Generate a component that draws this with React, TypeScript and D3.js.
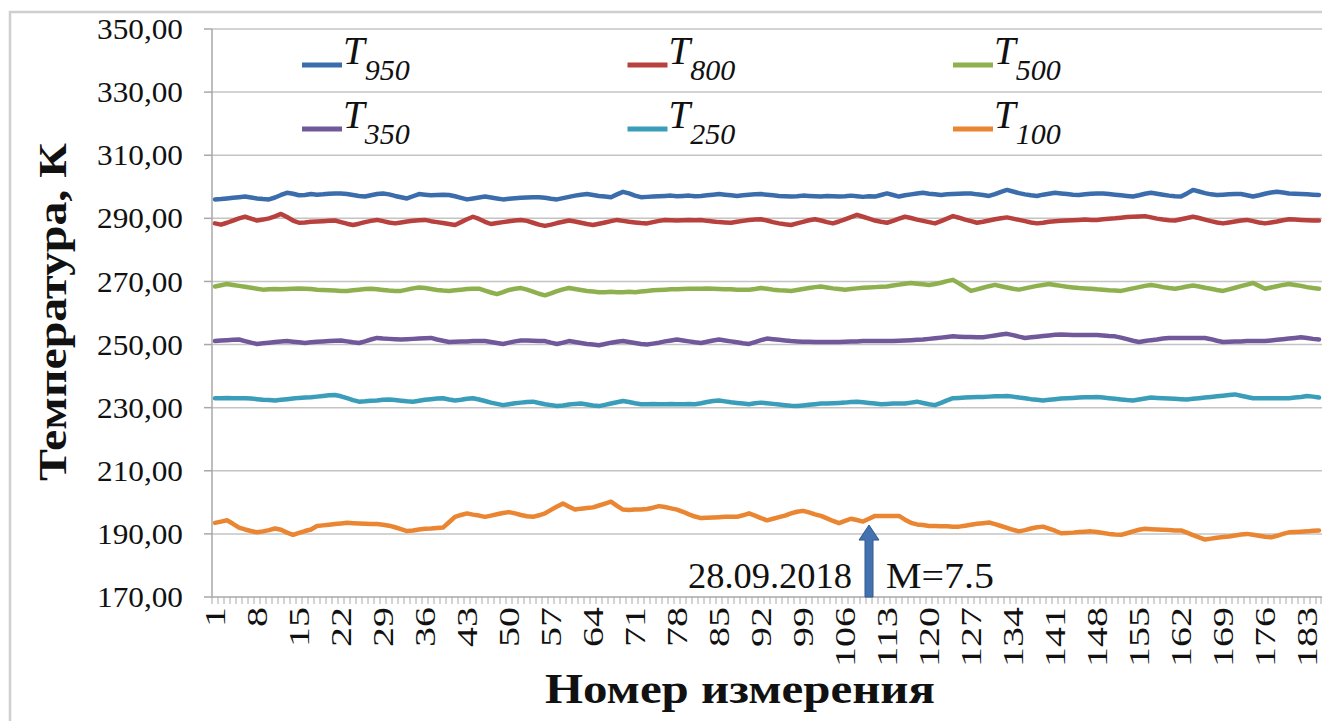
import React, { useEffect } from 'react';
import * as d3 from 'd3';

// measurement numbers 1..185
const categories = d3.range(1, 186);
const xTickLabels = [1, 8, 15, 22, 29, 36, 43, 50, 57, 64, 71, 78, 85, 92, 99, 106, 113, 120, 127, 134, 141, 148, 155, 162, 169, 176, 183];
const yTicks = [170, 190, 210, 230, 250, 270, 290, 310, 330, 350];

const t950 = [
  296.0, 296.1, 296.3, 296.5, 296.7, 296.9, 296.6, 296.3, 296.1, 296.0,
  296.6, 297.4, 298.1, 297.8, 297.3, 297.4, 297.7, 297.5, 297.6, 297.8,
  297.9, 297.9, 297.7, 297.4, 297.1, 296.9, 297.3, 297.7, 297.9, 297.6,
  297.1, 296.7, 296.3, 297.0, 297.7, 297.5, 297.3, 297.4, 297.5, 297.4,
  297.0, 296.5, 296.0, 296.3, 296.6, 296.9, 296.6, 296.3, 296.0, 296.2,
  296.4, 296.5, 296.6, 296.7, 296.7, 296.5, 296.2, 296.0, 296.4, 296.8,
  297.2, 297.5, 297.7, 297.4, 297.1, 296.9, 296.7, 297.6, 298.4, 297.9,
  297.2, 296.7, 296.8, 296.9, 297.0, 297.1, 297.2, 297.0, 297.1, 297.2,
  297.0, 297.1, 297.3, 297.5, 297.7, 297.5, 297.3, 297.1, 297.3, 297.5,
  297.6, 297.7, 297.5, 297.3, 297.1, 297.0, 296.9, 297.0, 297.2, 297.1,
  297.0, 296.9, 297.1, 297.0, 296.9, 297.0, 297.2, 297.0, 296.8, 297.0,
  296.9, 297.4, 297.9, 297.4, 296.9, 297.3, 297.6, 297.9, 298.1, 297.8,
  297.6, 297.4, 297.6, 297.7, 297.8, 297.9, 297.9, 297.6, 297.4, 297.1,
  297.7, 298.4, 299.0, 298.5, 298.0, 297.6, 297.3, 297.1, 297.5, 297.8,
  298.1, 297.9, 297.7, 297.5, 297.4, 297.6, 297.8, 297.9, 297.9, 297.7,
  297.5, 297.3, 297.1, 296.9, 297.3, 297.8, 298.1, 297.8, 297.5, 297.2,
  297.0, 296.9, 297.9, 299.0, 298.5, 298.0, 297.6, 297.4, 297.5, 297.6,
  297.7, 297.7, 297.3, 296.9, 297.3, 297.8, 298.2, 298.4, 298.2, 297.9,
  297.8, 297.7, 297.6, 297.5, 297.4,
];

const t800 = [
  288.4, 288.0, 288.6, 289.3, 290.0, 290.5, 289.9, 289.3, 289.6, 290.0,
  290.6, 291.4, 290.4, 289.3, 288.6, 288.7, 288.9, 289.0, 289.1, 289.2,
  289.3, 288.8, 288.3, 287.9, 288.3, 288.8, 289.2, 289.5, 289.1, 288.7,
  288.4, 288.7, 289.0, 289.2, 289.4, 289.5, 289.1, 288.8, 288.5, 288.2,
  287.9, 288.8, 289.7, 290.5, 289.8, 288.9, 288.2, 288.5, 288.8, 289.1,
  289.3, 289.5, 289.2, 288.6, 288.0, 287.6, 288.0, 288.5, 288.9, 289.3,
  289.0, 288.6, 288.2, 287.9, 288.3, 288.7, 289.1, 289.5, 289.2, 288.9,
  288.7, 288.5, 288.4, 288.8, 289.2, 289.5, 289.4, 289.3, 289.4, 289.5,
  289.4, 289.5, 289.2, 289.0, 288.8, 288.7, 288.6, 288.9, 289.2, 289.5,
  289.6, 289.7, 289.3, 288.8, 288.4, 288.1, 287.9, 288.4, 288.9, 289.4,
  289.7, 289.3, 288.8, 288.4, 289.0, 289.7, 290.4, 291.1, 290.5, 289.9,
  289.3, 288.9, 288.6, 289.2, 289.9, 290.5, 290.1, 289.6, 289.2, 288.8,
  288.4, 289.1, 289.9, 290.7, 290.2, 289.6, 289.1, 288.6, 288.9, 289.3,
  289.7, 290.0, 290.3, 289.9, 289.5, 289.1, 288.7, 288.4, 288.6, 288.9,
  289.1, 289.2, 289.3, 289.4, 289.5, 289.6, 289.5, 289.5, 289.7, 289.9,
  290.0, 290.2, 290.4, 290.5, 290.6, 290.7, 290.3, 289.9, 289.6, 289.4,
  289.3, 289.7, 290.1, 290.5, 290.1, 289.6, 289.1, 288.7, 288.4, 288.7,
  289.0, 289.3, 289.5, 289.1, 288.7, 288.4, 288.7, 289.0, 289.4, 289.7,
  289.6, 289.5, 289.4, 289.3, 289.3,
];

const t500 = [
  268.4, 268.8, 269.2, 268.9, 268.6, 268.3, 268.0, 267.7, 267.4, 267.5,
  267.6, 267.5, 267.6, 267.7, 267.8, 267.7, 267.6, 267.4, 267.3, 267.2,
  267.1, 267.0, 267.0, 267.2, 267.4, 267.6, 267.7, 267.5, 267.3, 267.1,
  267.0, 267.0, 267.4, 267.8, 268.1, 267.9, 267.6, 267.3, 267.1, 267.0,
  267.2, 267.4, 267.6, 267.7, 267.7, 267.1, 266.5, 266.0, 266.6, 267.3,
  267.7, 267.9, 267.4, 266.8, 266.1, 265.6, 266.2, 266.9, 267.5, 267.9,
  267.6, 267.3, 267.0, 266.8, 266.6, 266.6, 266.7, 266.6, 266.6, 266.7,
  266.6, 266.8, 267.0, 267.2, 267.3, 267.4, 267.5, 267.5, 267.6, 267.7,
  267.7, 267.7, 267.8, 267.7, 267.6, 267.5, 267.5, 267.4, 267.4, 267.4,
  267.6, 267.9, 267.7, 267.4, 267.2, 267.1, 267.0, 267.3, 267.6, 267.9,
  268.2, 268.4, 268.1, 267.8, 267.6, 267.4, 267.6, 267.8, 268.0, 268.1,
  268.2, 268.3, 268.4, 268.7, 269.0, 269.3, 269.5, 269.3, 269.1, 268.9,
  269.2, 269.6, 270.1, 270.5, 269.4, 268.2, 267.0, 267.5, 268.0, 268.5,
  268.9, 268.5, 268.1, 267.7, 267.4, 267.8, 268.2, 268.6, 268.9, 269.2,
  268.9, 268.6, 268.3, 268.1, 267.9, 267.8, 267.7, 267.5, 267.4, 267.2,
  267.1, 267.0, 267.4, 267.8, 268.2, 268.6, 268.9, 268.6, 268.2, 267.9,
  267.7, 268.0, 268.4, 268.7, 268.4, 268.0, 267.7, 267.3, 267.0, 267.5,
  268.0, 268.5, 269.0, 269.5, 268.6, 267.7, 268.1, 268.5, 268.9, 269.2,
  268.9, 268.6, 268.2, 267.9, 267.7,
];

const t350 = [
  251.1, 251.3, 251.4, 251.5, 251.6, 251.1, 250.6, 250.2, 250.4, 250.6,
  250.8, 251.0, 251.1, 250.9, 250.7, 250.5, 250.7, 250.9, 251.0, 251.1,
  251.2, 251.3, 251.0, 250.7, 250.5, 251.0, 251.6, 252.1, 251.9, 251.8,
  251.7, 251.6, 251.7, 251.8, 251.9, 252.0, 252.1, 251.6, 251.2, 250.8,
  250.9, 251.0, 251.0, 251.1, 251.1, 251.1, 250.8, 250.5, 250.2, 250.6,
  251.0, 251.3, 251.3, 251.2, 251.1, 251.1, 250.6, 250.2, 250.6, 251.1,
  250.8, 250.5, 250.2, 250.0, 249.8, 250.2, 250.6, 250.9, 251.1, 250.8,
  250.5, 250.2, 250.0, 250.3, 250.6, 251.0, 251.3, 251.6, 251.3, 251.0,
  250.7, 250.5, 250.9, 251.3, 251.6, 251.3, 251.0, 250.7, 250.4, 250.2,
  250.8, 251.4, 251.9, 251.7, 251.5, 251.3, 251.1, 251.0, 250.9, 250.9,
  250.8, 250.8, 250.8, 250.8, 250.8, 250.9, 251.0, 251.0, 251.1, 251.1,
  251.1, 251.1, 251.1, 251.1, 251.2, 251.3, 251.4, 251.5, 251.6, 251.8,
  252.0, 252.2, 252.4, 252.6, 252.5, 252.4, 252.4, 252.3, 252.3, 252.6,
  252.9, 253.2, 253.4, 253.0, 252.5, 252.1, 252.3, 252.5, 252.7, 252.9,
  253.1, 253.2, 253.1, 253.0, 253.0, 253.0, 253.0, 253.0, 252.9, 252.7,
  252.6, 252.2, 251.7, 251.2, 250.8, 251.1, 251.4, 251.6, 251.9, 252.1,
  252.1, 252.1, 252.1, 252.1, 252.1, 252.1, 251.7, 251.2, 250.8, 250.9,
  251.0, 251.0, 251.1, 251.1, 251.1, 251.1, 251.3, 251.5, 251.7, 251.9,
  252.1, 252.3, 252.1, 251.8, 251.6,
];

const t250 = [
  233.0, 233.0, 233.1, 233.0, 233.0, 233.0, 232.9, 232.7, 232.5, 232.4,
  232.3, 232.5, 232.7, 232.9, 233.1, 233.2, 233.3, 233.5, 233.7, 233.9,
  234.0, 233.6, 233.0, 232.4, 231.9, 232.0, 232.2, 232.3, 232.5, 232.6,
  232.4, 232.2, 232.0, 231.9, 232.2, 232.5, 232.7, 232.9, 233.0, 232.6,
  232.3, 232.5, 232.8, 233.0, 232.6, 232.1, 231.6, 231.2, 230.8, 231.1,
  231.4, 231.6, 231.8, 231.9, 231.5, 231.1, 230.8, 230.5, 230.7, 231.0,
  231.2, 231.3, 231.0, 230.7, 230.5, 230.9, 231.3, 231.7, 232.1, 231.8,
  231.4, 231.1, 231.1, 231.2, 231.1, 231.1, 231.2, 231.1, 231.1, 231.2,
  231.1, 231.4, 231.8, 232.1, 232.3, 232.0, 231.7, 231.5, 231.3, 231.1,
  231.4, 231.6, 231.4, 231.2, 231.0, 230.8, 230.6, 230.5, 230.7, 230.9,
  231.1, 231.3, 231.3, 231.4, 231.5, 231.6, 231.8, 231.9, 231.7, 231.5,
  231.3, 231.1, 231.2, 231.3, 231.3, 231.3, 231.6, 231.9, 231.5, 231.1,
  230.8, 231.5, 232.3, 233.0, 233.1, 233.2, 233.3, 233.4, 233.4, 233.5,
  233.6, 233.6, 233.7, 233.5, 233.2, 233.0, 232.7, 232.5, 232.3, 232.5,
  232.7, 232.9, 233.0, 233.1, 233.2, 233.3, 233.3, 233.4, 233.2, 233.0,
  232.8, 232.6, 232.4, 232.3, 232.6, 232.9, 233.2, 233.1, 233.0, 232.9,
  232.8, 232.7, 232.6, 232.8, 233.0, 233.2, 233.4, 233.6, 233.8, 234.0,
  234.2, 233.8, 233.4, 233.0, 233.0, 233.0, 233.0, 233.0, 233.0, 233.0,
  233.2, 233.4, 233.7, 233.5, 233.2,
];

const t100 = [
  193.5, 193.9, 194.3, 193.2, 192.0, 191.4, 190.9, 190.5, 190.8, 191.2,
  191.7, 191.3, 190.4, 189.7, 190.3, 190.9, 191.4, 192.5, 192.7, 192.9,
  193.1, 193.3, 193.5, 193.4, 193.3, 193.2, 193.1, 193.1, 192.9, 192.6,
  192.1, 191.5, 190.9, 191.1, 191.4, 191.6, 191.7, 191.9, 192.0, 193.7,
  195.4, 196.0, 196.5, 196.1, 195.8, 195.4, 195.8, 196.2, 196.6, 196.9,
  196.5, 196.0, 195.6, 195.4, 195.9, 196.5, 197.6, 198.7, 199.6, 198.6,
  197.7, 198.0, 198.2, 198.4, 199.0, 199.6, 200.2, 198.9, 197.7, 197.6,
  197.7, 197.7, 197.9, 198.3, 198.8, 198.5, 198.1, 197.7, 197.0, 196.2,
  195.5, 195.0, 195.1, 195.2, 195.3, 195.4, 195.4, 195.4, 195.9, 196.5,
  195.8, 195.0, 194.3, 194.8, 195.3, 195.8, 196.5, 197.0, 197.3, 196.8,
  196.2, 195.7, 194.9, 194.1, 193.4, 194.1, 194.8, 194.4, 193.9, 194.8,
  195.7, 195.7, 195.7, 195.7, 195.7, 194.5, 193.5, 193.0, 192.8, 192.5,
  192.5, 192.4, 192.4, 192.3, 192.3, 192.6, 192.9, 193.2, 193.4, 193.6,
  193.1, 192.5, 191.9, 191.3, 190.8, 191.2, 191.7, 192.1, 192.3, 191.7,
  191.0, 190.2, 190.3, 190.4, 190.6, 190.7, 190.8, 190.6, 190.3, 190.0,
  189.8, 189.7, 190.2, 190.8, 191.3, 191.6, 191.5, 191.4, 191.3, 191.2,
  191.1, 191.1, 190.4, 189.6, 188.9, 188.2, 188.5, 188.8, 189.0, 189.2,
  189.5, 189.8, 190.0, 189.7, 189.4, 189.1, 188.9, 189.4, 190.0, 190.5,
  190.6, 190.7, 190.8, 191.0, 191.1,
];

const seriesNames = ['950', '800', '500', '350', '250', '100'];
const seriesValues = [t950, t800, t500, t350, t250, t100];
const colors = ['#3b6cab', '#b8403d', '#8fb04e', '#71589a', '#3a9db9', '#ea8532'];

// annotation
const markCategory = 110;
const markValue = 192.8;
const markDate = '28.09.2018';
const markLabel = 'M=7.5';

const W = 1322;
const H = 721;
const serif = '"Liberation Serif", "DejaVu Serif", serif';

export default function App() {
  useEffect(() => {
    document.body.style.margin = '0';
    document.body.style.overflow = 'hidden';
  }, []);

  const x = d3.scaleBand<number>().domain(categories).range([212, 1322]);
  const y = d3.scaleLinear().domain([170, 350]).range([597, 29]);
  const bw = x.bandwidth();
  const cx = (c: number) => (x(c) as number) + bw / 2;

  const line = d3
    .line<number>()
    .x((_, i) => cx(categories[i]))
    .y((d) => y(d));

  const ax = cx(markCategory);
  const tipY = y(markValue);
  const baseY = y(170);
  const arrowPath = `M${ax - 4},${baseY} L${ax - 4},${tipY + 15} L${ax - 10},${tipY + 15} L${ax},${tipY} L${ax + 10},${tipY + 15} L${ax + 4},${tipY + 15} L${ax + 4},${baseY} Z`;

  return (
    <svg width={W} height={H} style={{ display: 'block', background: '#fff' }} fontFamily={serif}>
      <rect x={10} y={12} width={1340} height={740} fill="none" stroke="#cfcfcf" strokeWidth={2.5} />

      {/* gridlines */}
      {yTicks.map((t) => (
        <g key={t}>
          <line x1={212} x2={1322} y1={y(t)} y2={y(t)} stroke={t === 170 ? '#a8a8a8' : '#c4c4c4'} strokeWidth={1.5} />
          <line x1={204} x2={212} y1={y(t)} y2={y(t)} stroke="#a8a8a8" strokeWidth={1.5} />
          <text x={183} y={y(t)} dy="0.35em" textAnchor="end" fontSize={29} fill="#111" textLength={86} lengthAdjust="spacingAndGlyphs">
            {t.toFixed(2).replace('.', ',')}
          </text>
        </g>
      ))}
      <line x1={212} x2={212} y1={y(350)} y2={y(170)} stroke="#a8a8a8" strokeWidth={1.5} />

      {/* category ticks */}
      {categories.map((c) => (
        <line key={c} x1={x(c) as number} x2={x(c) as number} y1={597} y2={604} stroke="#a8a8a8" strokeWidth={1} />
      ))}
      <line x1={1321} x2={1321} y1={597} y2={604} stroke="#a8a8a8" strokeWidth={1} />

      {xTickLabels.map((c) => {
        const s = String(c);
        return (
          <text
            key={c}
            transform={`translate(${cx(c)},607) rotate(-90)`}
            textAnchor="end"
            dominantBaseline="central"
            fontSize={29}
            fill="#111"
            textLength={s.length * 20}
            lengthAdjust="spacingAndGlyphs"
          >
            {s}
          </text>
        );
      })}

      {/* series */}
      {seriesValues.map((vals, i) => (
        <path key={seriesNames[i]} d={line(vals) || ''} fill="none" stroke={colors[i]} strokeWidth={4.5} strokeLinejoin="round" strokeLinecap="round" />
      ))}

      {/* legend */}
      {seriesNames.map((n, i) => {
        const col = i % 3;
        const row = Math.floor(i / 3);
        const lx = 302 + col * 325.5;
        const ly = 65 + row * 64;
        return (
          <g key={n}>
            <line x1={lx} x2={lx + 40} y1={ly} y2={ly} stroke={colors[i]} strokeWidth={5} />
            <text x={lx + 41} y={ly - 1} fontSize={39} fontStyle="italic" fill="#111">
              T
              <tspan fontSize={30} dy={16}>
                {n}
              </tspan>
            </text>
          </g>
        );
      })}

      {/* annotation */}
      <path d={arrowPath} fill="#4472b0" stroke="#2e5a8e" strokeWidth={1} />
      <text x={ax - 17} y={588} textAnchor="end" fontSize={36} fill="#111" textLength={164} lengthAdjust="spacingAndGlyphs">
        {markDate}
      </text>
      <text x={ax + 17} y={588} fontSize={36} fill="#111" textLength={108} lengthAdjust="spacingAndGlyphs">
        {markLabel}
      </text>

      {/* axis titles */}
      <text x={740} y={703} textAnchor="middle" fontSize={42} fontWeight="bold" fill="#111" textLength={390} lengthAdjust="spacingAndGlyphs">
        Номер измерения
      </text>
      <text
        transform="translate(66,312) rotate(-90)"
        textAnchor="middle"
        fontSize={41}
        fontWeight="bold"
        fill="#111"
        textLength={338}
        lengthAdjust="spacingAndGlyphs"
      >
        Температура, К
      </text>
    </svg>
  );
}
